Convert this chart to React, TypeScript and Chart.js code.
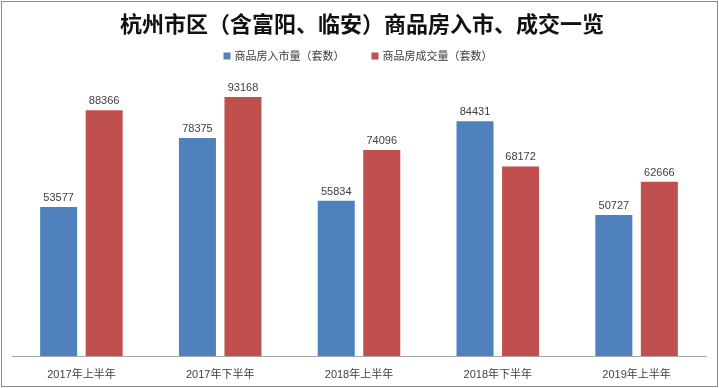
import React, { useEffect, useRef } from "react";
import { Chart, registerables } from "chart.js";

Chart.register(...registerables);

const TITLE = "杭州市区（含富阳、临安）商品房入市、成交一览";
const categories = ["2017年上半年", "2017年下半年", "2018年上半年", "2018年下半年", "2019年上半年"];
const seriesNames = ["商品房入市量（套数）", "商品房成交量（套数）"];
const supplyValues = [53577, 78375, 55834, 84431, 50727];
const dealValues = [88366, 93168, 74096, 68172, 62666];
const colors = ["#4F81BD", "#C0504D"];

const FONT = '"Liberation Sans", "Noto Sans CJK SC", sans-serif';

const decorPlugin = {
  id: "decor",
  afterDraw(chart: any) {
    const ctx = chart.ctx;
    const w = chart.width;
    ctx.save();
    // border
    ctx.strokeStyle = "#8c8c8c";
    ctx.lineWidth = 1;
    ctx.strokeRect(1.5, 1.5, w - 3, chart.height - 3);
    // title
    ctx.fillStyle = "#111111";
    ctx.font = 'bold 22px "Noto Sans CJK SC", sans-serif';
    ctx.textAlign = "center";
    ctx.textBaseline = "middle";
    ctx.fillText(TITLE, 362, 24);
    // legend
    ctx.font = '11px "Noto Sans CJK SC", sans-serif';
    ctx.textAlign = "left";
    const box = 7;
    const gapBox = 4;
    const gapItem = 27;
    const widths = seriesNames.map((s) => ctx.measureText(s).width);
    const total = widths.reduce((a, b) => a + box + gapBox + b, 0) + gapItem * (seriesNames.length - 1);
    let x = 358 - total / 2;
    const cy = 56;
    seriesNames.forEach((s, i) => {
      ctx.fillStyle = colors[i];
      ctx.fillRect(x, cy - 3.5, box, box);
      ctx.fillStyle = "#404040";
      ctx.fillText(s, x + box + gapBox, cy);
      x += box + gapBox + widths[i] + gapItem;
    });
    ctx.restore();
  },
  afterDatasetsDraw(chart: any) {
    const ctx = chart.ctx;
    ctx.save();
    ctx.font = "11px " + FONT;
    ctx.fillStyle = "#404040";
    ctx.textAlign = "center";
    ctx.textBaseline = "alphabetic";
    chart.data.datasets.forEach((ds: any, di: number) => {
      const meta = chart.getDatasetMeta(di);
      meta.data.forEach((el: any, i: number) => {
        ctx.fillText(String(ds.data[i]), el.x, el.y - 6);
      });
    });
    ctx.restore();
  },
};

export default function App() {
  const ref = useRef<HTMLCanvasElement>(null);
  useEffect(() => {
    document.body.style.margin = "0";
    const chart = new Chart(ref.current!, {
      type: "bar",
      data: {
        labels: categories,
        datasets: [
          {
            label: seriesNames[0],
            data: supplyValues,
            backgroundColor: colors[0],
            categoryPercentage: 0.656,
            barPercentage: 0.813,
          },
          {
            label: seriesNames[1],
            data: dealValues,
            backgroundColor: colors[1],
            categoryPercentage: 0.656,
            barPercentage: 0.813,
          },
        ],
      },
      options: {
        animation: false,
        responsive: false,
        devicePixelRatio: 1,
        layout: { padding: { top: 78, left: 12, right: 13, bottom: 0 } },
        plugins: {
          legend: { display: false },
          title: { display: false },
          tooltip: { enabled: false },
        },
        scales: {
          x: {
            grid: { display: false, drawTicks: false },
            border: { display: true, color: "#a6a6a6", width: 1 },
            ticks: {
              color: "#404040",
              font: { size: 11, family: FONT },
              padding: 12,
              maxRotation: 0,
            },
            afterFit: (scale: any) => {
              scale.height = 32;
            },
          },
          y: {
            display: false,
            min: 0,
            max: 100000,
          },
        },
      },
      plugins: [decorPlugin],
    });
    return () => chart.destroy();
  }, []);
  return (
    <div style={{ position: "fixed", left: 0, top: 0, width: 719, height: 388, background: "#fff" }}>
      <canvas ref={ref} width={719} height={388} style={{ display: "block" }} />
    </div>
  );
}
